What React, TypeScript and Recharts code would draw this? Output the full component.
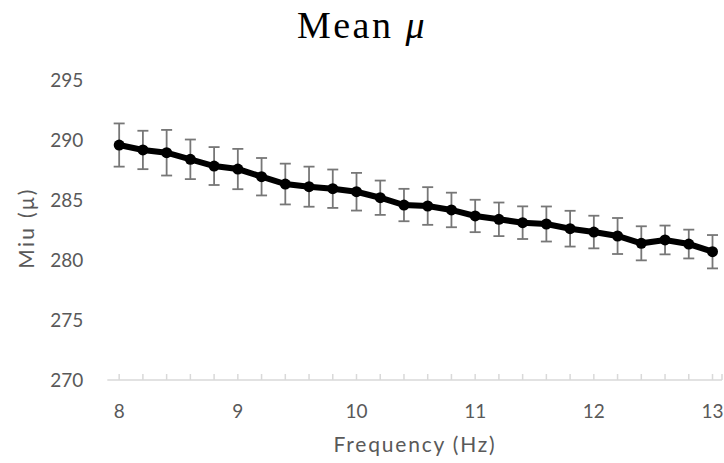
import React from 'react';
import { LineChart, Line, XAxis, YAxis, ErrorBar } from 'recharts';

const frequencies = [8, 8.2, 8.4, 8.6, 8.8, 9, 9.2, 9.4, 9.6, 9.8, 10, 10.2, 10.4, 10.6, 10.8, 11, 11.2, 11.4, 11.6, 11.8, 12, 12.2, 12.4, 12.6, 12.8, 13];
const meanValues = [289.58, 289.17, 288.94, 288.39, 287.83, 287.58, 286.94, 286.33, 286.11, 285.94, 285.69, 285.19, 284.58, 284.5, 284.17, 283.67, 283.39, 283.11, 283.0, 282.61, 282.33, 282.0, 281.39, 281.67, 281.33, 280.69];
const errorValues = [1.8, 1.6, 1.9, 1.65, 1.58, 1.68, 1.56, 1.7, 1.67, 1.6, 1.57, 1.43, 1.35, 1.57, 1.44, 1.35, 1.4, 1.36, 1.46, 1.49, 1.36, 1.5, 1.42, 1.2, 1.2, 1.39];
const xTicks = [8, 8.2, 8.4, 8.6, 8.8, 9, 9.2, 9.4, 9.6, 9.8, 10, 10.2, 10.4, 10.6, 10.8, 11, 11.2, 11.4, 11.6, 11.8, 12, 12.2, 12.4, 12.6, 12.8, 13, 13.08];
const xLabelTicks = [8, 9, 10, 11, 12, 13];
const yTicks = [270, 275, 280, 285, 290, 295];

const data = frequencies.map((f, i) => ({ freq: f, mean: meanValues[i], err: errorValues[i] }));

const tickFont = { fontFamily: 'Lato', fontSize: 19, fill: '#595959' };

export default function App() {
  return (
    <div style={{ position: 'absolute', left: 0, top: 0, width: 724, height: 463, background: '#fff' }}>
      <LineChart width={724} height={463} data={data} margin={{ top: 80, right: 2, bottom: 23, left: 47.3 }}>
        <XAxis
          type="number"
          dataKey="freq"
          domain={[7.9, 13.08]}
          ticks={xTicks}
          interval={0}
          allowDataOverflow
          tickFormatter={(v: number) => (xLabelTicks.some((t) => Math.abs(t - v) < 1e-6) ? String(v) : '')}
          tickSize={-6}
          tickMargin={31}
          height={60}
          tick={tickFont}
          tickLine={{ stroke: '#d9d9d9', strokeWidth: 1.5 }}
          axisLine={{ stroke: '#d9d9d9', strokeWidth: 1.5 }}
          label={{
            value: 'Frequency (Hz)',
            content: () => (
              <text x={415} y={443} textAnchor="middle" dominantBaseline="central" style={{ fontFamily: 'Lato', fontSize: 21, fill: '#595959', letterSpacing: 1.8 }}>
                Frequency (Hz)
              </text>
            ),
          }}
        />
        <YAxis
          type="number"
          domain={[270, 295]}
          ticks={yTicks}
          interval={0}
          axisLine={false}
          tickLine={false}
          width={60}
          tickMargin={18}
          tick={tickFont}
          label={{
            value: 'Miu (μ)',
            content: () => (
              <text x={25} y={228} transform="rotate(-90 25 228)" textAnchor="middle" dominantBaseline="central" style={{ fontFamily: 'Lato', fontSize: 21, fill: '#595959', letterSpacing: 2.3 }}>
                Miu (μ)
              </text>
            ),
          }}
        />
        <Line type="linear" dataKey="mean" stroke="none" dot={false} activeDot={false} isAnimationActive={false}>
          <ErrorBar dataKey="err" width={5.5} stroke="#777777" strokeWidth={1.8} direction="y" isAnimationActive={false} />
        </Line>
        <Line
          type="linear"
          dataKey="mean"
          stroke="#000"
          strokeWidth={6}
          dot={{ r: 5.5, fill: '#000', stroke: '#000', strokeWidth: 0 }}
          activeDot={false}
          isAnimationActive={false}
        />
      </LineChart>
      <svg width={724} height={60} style={{ position: 'absolute', left: 0, top: 0, pointerEvents: 'none' }}>
        <text x={362} y={38} textAnchor="middle" style={{ fontFamily: 'Liberation Serif', fontSize: 38, fill: '#000', letterSpacing: 2.5 }}>
          Mean <tspan fontStyle="italic">μ</tspan>
        </text>
      </svg>
    </div>
  );
}
